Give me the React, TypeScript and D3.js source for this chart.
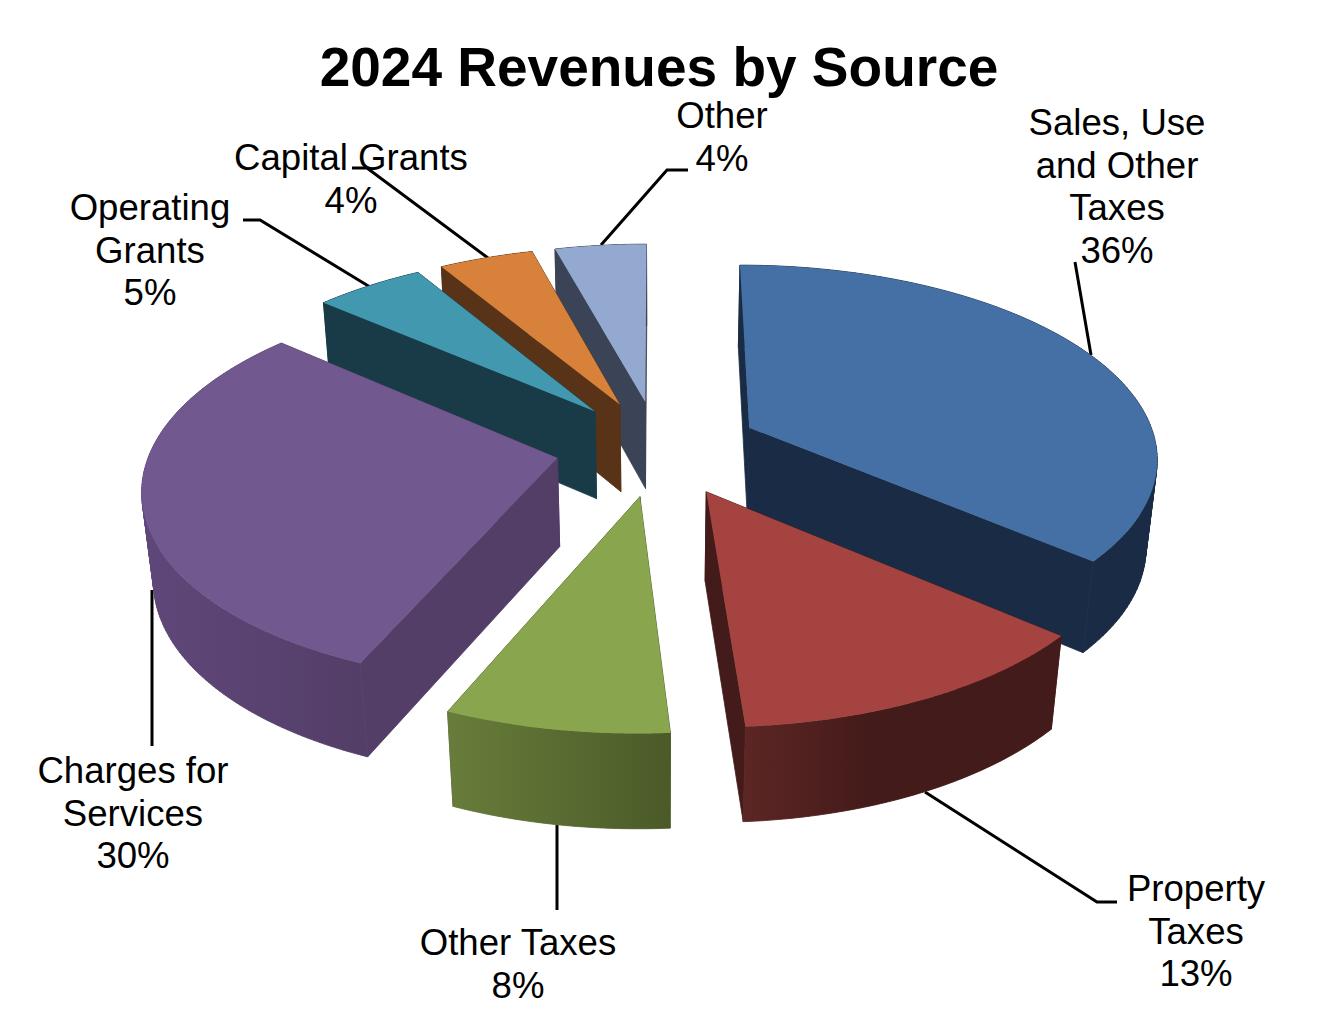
import React from "react";
import * as d3 from "d3";

const categories = ["Sales, Use and Other Taxes", "Property Taxes", "Other Taxes", "Charges for Services", "Operating Grants", "Capital Grants", "Other"];
const shares = [35.9, 13.0, 7.7, 30.1, 4.95, 4.25, 4.1];
const topColors = ["#4570a6", "#a54341", "#89a54e", "#71588f", "#4198af", "#d8813b", "#93a9cf"];
const cutColors = ["#1a2c45", "#431b1a", "#4b5a28", "#533e67", "#193b47", "#583318", "#3b4356"];
const wallFrom = ["#1a2c45", "#5c2624", "#687d3b", "#60477a", "#193b47", "#583318", "#3b4356"];
const wallTo = ["#1a2c45", "#431b1a", "#4b5a28", "#533e67", "#193b47", "#583318", "#3b4356"];
const labelLines = [["Sales, Use", "and Other", "Taxes", "36%"], ["Property", "Taxes", "13%"], ["Other Taxes", "8%"], ["Charges for", "Services", "30%"], ["Operating", "Grants", "5%"], ["Capital Grants", "4%"], ["Other", "4%"]];
const labelX = [1117, 1196, 518, 133, 150, 351, 722];
const labelY = [135, 901, 955, 783, 220, 170, 128];
const leaders: [number, number][][] = [
  [[1075, 262], [1091, 355]],
  [[925, 792], [1097, 902], [1117, 902]],
  [[557, 825], [557, 910]],
  [[152, 590], [152, 746]],
  [[243, 220], [260, 220], [370, 287]],
  [[352, 168], [367, 168], [488, 258]],
  [[688, 170], [667, 170], [601, 245]],
];

const W = 1320, H = 1012;
const CX = 658, CY = 454, SCALE = 409, SIN_T = 0.47, COS_T = Math.sqrt(1 - SIN_T * SIN_T);
const DIST = 7.7, EXPLODE = 0.25, DEPTH = 0.25, APEX_LIFT = 6, Z_PERSP = 1.5;
const FONT = "'Liberation Sans', Arial, sans-serif";

function project(u: number, v: number, z: number): [number, number] {
  const s = SCALE / (1 - (v * COS_T + Z_PERSP * z * SIN_T) / DIST);
  return [CX + u * s, CY + (v * SIN_T - z * COS_T) * s];
}

const pieGen = d3.pie<number>().sort(null).startAngle(0).endAngle(2 * Math.PI);
const line = d3.line();

function quad(a: [number, number], b: [number, number], c: [number, number], d: [number, number]) {
  const pts = [a, b, c, d];
  return line(d3.polygonArea(pts) < 0 ? pts.slice().reverse() : pts)! + "Z";
}

export default function App() {
  const arcs = pieGen(shares);
  const drawOrder = [6, 5, 4, 0, 3, 2, 1];
  const slices = arcs.map((a, i) => {
    const mid = (a.startAngle + a.endAngle) / 2;
    const ou = EXPLODE * Math.sin(mid), ov = -EXPLODE * Math.cos(mid);
    const rim = (t: number, z: number) => project(ou + Math.sin(t), ov - Math.cos(t), z);
    const ts = d3.range(0, 121).map((k) => a.startAngle + ((a.endAngle - a.startAngle) * k) / 120);
    const lift = (p: [number, number]): [number, number] => [p[0], p[1] - APEX_LIFT];
    const apexTop = lift(project(ou, ov, 0));
    const apexBot = lift(project(ou, ov, -DEPTH));
    const arcTop = ts.map((t) => rim(t, 0));
    const arcBot = ts.map((t) => rim(t, -DEPTH));
    const xs = arcBot.concat(arcTop).map((p) => p[0]);
    return {
      i,
      top: line([apexTop, ...arcTop])! + "Z",
      wall: d3.range(0, 120).map((k) => quad(arcTop[k], arcTop[k + 1], arcBot[k + 1], arcBot[k])).join(""),
      cutA: line([apexTop, arcTop[0], arcBot[0], apexBot])! + "Z",
      cutB: line([apexTop, arcTop[120], arcBot[120], apexBot])! + "Z",
      x0: d3.min(xs)!,
      x1: d3.max(xs)!,
    };
  });

  return (
    <svg width={W} height={H} style={{ position: "absolute", left: 0, top: 0, background: "#fff" }} fontFamily={FONT}>
      <defs>
        {slices.map((s) => (
          <linearGradient key={s.i} id={`wall${s.i}`} gradientUnits="userSpaceOnUse" x1={s.x0} x2={s.i === 1 ? s.x0 + (s.x1 - s.x0) * 0.4 : s.x1} y1={0} y2={0}>
            <stop offset="0" stopColor={wallFrom[s.i]} />
            <stop offset="1" stopColor={wallTo[s.i]} />
          </linearGradient>
        ))}
      </defs>
      {leaders.map((pts, i) => (
        <path key={i} d={line(pts)!} fill="none" stroke="#000" strokeWidth={3} />
      ))}
      {drawOrder.map((i) => {
        const s = slices[i];
        return (
          <g key={categories[i]}>
            <path d={s.cutB} fill={cutColors[i]} stroke={cutColors[i]} strokeWidth={0.8} />
            <path d={s.cutA} fill={cutColors[i]} stroke={cutColors[i]} strokeWidth={0.8} />
            <path d={s.wall} fill={`url(#wall${i})`} stroke={`url(#wall${i})`} strokeWidth={0.8} />
            <path d={s.top} fill={topColors[i]} />
          </g>
        );
      })}
      <text x={659} y={86} textAnchor="middle" fontSize={55} fontWeight="bold" fill="#000">2024 Revenues by Source</text>
      {labelLines.map((lines, i) => (
        <text key={i} textAnchor="middle" fontSize={36.6} fill="#000">
          {lines.map((l, k) => (
            <tspan key={k} x={labelX[i]} y={labelY[i] + k * 42.5}>{l}</tspan>
          ))}
        </text>
      ))}
    </svg>
  );
}
